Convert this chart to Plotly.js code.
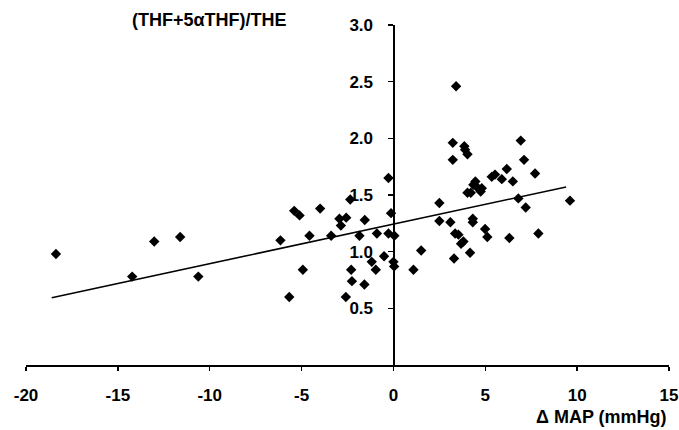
<!DOCTYPE html>
<html>
<head>
<meta charset="utf-8">
<script src="https://cdn.plot.ly/plotly-3.0.1.min.js"></script>
<style>html,body{margin:0;padding:0;background:#fff;}#chart{width:679px;height:430px;}</style>
</head>
<body>
<div id="chart"></div>
<script>
// Delta MAP (mmHg)
const deltaMAP = [-18.37,-14.22,-13.02,-11.61,-10.62,-6.15,-5.67,-5.40,-5.11,-4.93,
  -4.57,-3.99,-3.39,-2.94,-2.86,-2.57,-2.59,-2.30,-2.26,-2.35,
  -1.85,-1.58,-1.56,-1.18,-0.96,-0.90,-0.51,-0.27,-0.27,-0.13,
  0.05,0.00,0.04,1.09,1.51,2.50,2.50,3.10,3.23,3.23,
  3.30,3.36,3.41,3.54,3.68,3.81,3.86,3.90,4.03,4.03,
  4.17,4.21,4.32,4.32,4.35,4.46,4.54,4.81,4.75,4.99,
  5.11,5.35,5.53,5.90,6.17,6.31,6.50,6.80,6.93,7.11,
  7.20,7.71,7.89,9.61];
// (THF+5aTHF)/THE ratio
const ratio = [0.98,0.78,1.09,1.13,0.78,1.10,0.60,1.36,1.32,0.84,
  1.14,1.38,1.14,1.29,1.23,1.30,0.60,0.84,0.74,1.46,
  1.14,0.71,1.28,0.91,0.84,1.16,0.96,1.65,1.16,1.34,
  1.14,0.91,0.87,0.84,1.01,1.43,1.27,1.26,1.96,1.81,
  0.94,1.16,2.46,1.15,1.07,1.09,1.93,1.90,1.86,1.52,
  0.99,1.52,1.29,1.26,1.59,1.62,1.57,1.56,1.53,1.20,
  1.13,1.66,1.68,1.64,1.73,1.12,1.62,1.47,1.98,1.81,
  1.39,1.69,1.16,1.45];
// regression line end points
const trendX = [-18.6, 9.4];
const trendY = [0.594, 1.571];
const xTicks = [-20,-15,-10,-5,0,5,10,15];
const yTicks = [0.5,1.0,1.5,2.0,2.5,3.0];
const yTickText = ["0.5","1.0","1.5","2.0","2.5","3.0"];

const fnt = {family: "Liberation Sans, Arial, sans-serif", size: 17, color: "#000", weight: 700};
const tfnt = {family: "Liberation Sans, Arial, sans-serif", size: 18, color: "#000", weight: 700};
const b = s => "<b>" + s + "</b>";

const traces = [
  {x: deltaMAP, y: ratio, type: "scatter", mode: "markers",
   marker: {symbol: "diamond", size: 8, color: "#000"}, hoverinfo: "none"},
  {x: trendX, y: trendY, type: "scatter", mode: "lines",
   line: {color: "#000", width: 1.6}, hoverinfo: "none"}
];

const layout = {
  width: 679, height: 430,
  margin: {l: 26, r: 10, t: 25, b: 65},
  paper_bgcolor: "#fff", plot_bgcolor: "#fff",
  showlegend: false,
  xaxis: {
    range: [-20, 15], tickvals: xTicks, ticktext: xTicks.map(v => b(String(v))),
    ticks: "outside", ticklen: 4, tickwidth: 1.5, tickcolor: "#000",
    showline: true, linecolor: "#000", linewidth: 1.6,
    showgrid: false, zeroline: false, tickfont: fnt, ticklabelstandoff: 10
  },
  yaxis: {
    range: [0, 3], tickvals: yTicks, ticktext: yTickText.map(b),
    anchor: "free", position: 20/35,
    ticks: "outside", ticklen: 5, tickwidth: 1.5, tickcolor: "#000",
    showline: true, linecolor: "#000", linewidth: 1.6,
    showgrid: false, zeroline: false, tickfont: fnt, ticklabelstandoff: 12
  },
  annotations: [
    {text: b("(THF+5αTHF)/THE"), xref: "paper", yref: "paper", x: 0.286, y: 1.015,
     xanchor: "center", yanchor: "middle", showarrow: false, font: tfnt},
    {text: b("Δ MAP (mmHg)"), xref: "paper", yref: "paper", x: 1.0, y: -0.153,
     xanchor: "right", yanchor: "middle", showarrow: false, font: tfnt}
  ]
};

Plotly.newPlot("chart", traces, layout, {staticPlot: true, displayModeBar: false});
</script>
</body>
</html>
